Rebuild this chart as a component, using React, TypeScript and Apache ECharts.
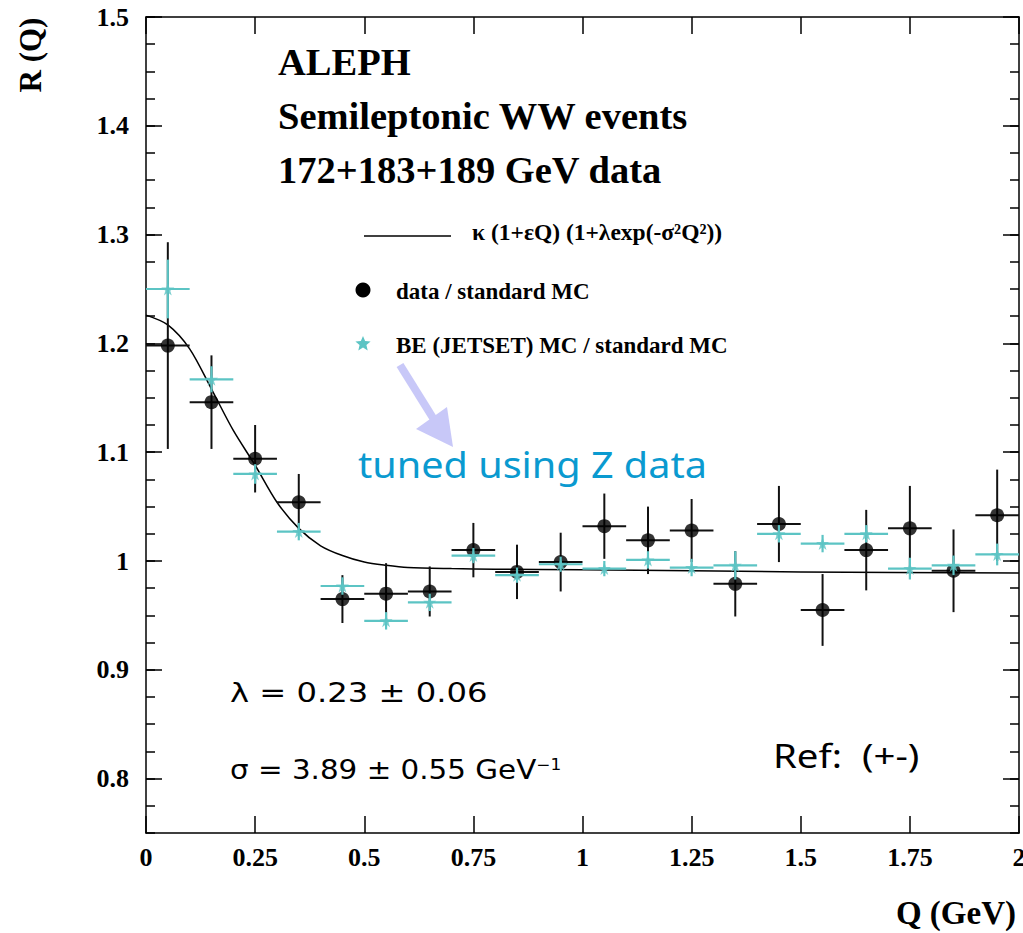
import React, { useEffect, useRef } from "react";
import * as echarts from "echarts";

// ---- data ----
const qCenters = [0.05, 0.15, 0.25, 0.35, 0.45, 0.55, 0.65, 0.75, 0.85, 0.95, 1.05, 1.15, 1.25, 1.35, 1.45, 1.55, 1.65, 1.75, 1.85, 1.95];
const binHalfWidth = 0.05;

const dataR = [1.198, 1.146, 1.094, 1.054, 0.965, 0.970, 0.972, 1.010, 0.990, 0.999, 1.032, 1.019, 1.028, 0.979, 1.034, 0.955, 1.010, 1.030, 0.991, 1.042];
const dataErr = [0.095, 0.043, 0.031, 0.026, 0.022, 0.028, 0.023, 0.025, 0.025, 0.027, 0.030, 0.031, 0.029, 0.030, 0.035, 0.033, 0.037, 0.039, 0.038, 0.042];

const mcR = [1.250, 1.167, 1.080, 1.027, 0.977, 0.945, 0.962, 1.005, 0.987, 0.997, 0.993, 1.001, 0.994, 0.996, 1.025, 1.016, 1.025, 0.993, 0.996, 1.006];
const mcErr = [0.027, 0.012, 0.009, 0.008, 0.008, 0.008, 0.008, 0.007, 0.007, 0.007, 0.007, 0.008, 0.008, 0.013, 0.008, 0.008, 0.008, 0.010, 0.009, 0.010];

const fitQ = [0, 0.05, 0.1, 0.15, 0.2, 0.25, 0.3, 0.35, 0.4, 0.45, 0.5, 0.55, 0.6, 0.7, 0.8, 1.0, 1.5, 2.0];
const fitR = [1.226, 1.217, 1.195, 1.158, 1.120, 1.088, 1.054, 1.030, 1.014, 1.005, 0.999, 0.996, 0.994, 0.993, 0.9925, 0.992, 0.990, 0.989];

const xTicks = [0, 0.25, 0.5, 0.75, 1, 1.25, 1.5, 1.75, 2];
const yMajorTicks = [0.8, 0.9, 1.0, 1.1, 1.2, 1.3, 1.4, 1.5];

const STAR = "path://M50,0 L61,35 L98,35 L68,57 L79,91 L50,70 L21,91 L32,57 L2,35 L39,35 Z";
const BLACK = "#000000";
const CYAN = "#5cc4c4";
const SERIF = "'Liberation Serif', 'Times New Roman', serif";
const SANS = "'Noto Sans', 'DejaVu Sans', sans-serif";

function errRender(color: string, lw: number) {
  return (_params: any, api: any) => {
    const x = api.value(0);
    const y = api.value(1);
    const ex = api.value(2);
    const ey = api.value(3);
    const pL = api.coord([x - ex, y]);
    const pR = api.coord([x + ex, y]);
    const pT = api.coord([x, y + ey]);
    const pB = api.coord([x, y - ey]);
    return {
      type: "group",
      children: [
        { type: "line", shape: { x1: pL[0], y1: pL[1], x2: pR[0], y2: pR[1] }, style: { stroke: color, lineWidth: lw } },
        { type: "line", shape: { x1: pT[0], y1: pT[1], x2: pB[0], y2: pB[1] }, style: { stroke: color, lineWidth: lw } },
      ],
    };
  };
}

function starPoints(cx: number, cy: number, r: number) {
  const pts: number[][] = [];
  for (let i = 0; i < 10; i++) {
    const a = -Math.PI / 2 + (i * Math.PI) / 5;
    const rr = i % 2 === 0 ? r : r * 0.45;
    pts.push([cx + rr * Math.cos(a), cy + rr * Math.sin(a)]);
  }
  return pts;
}

export default function App() {
  const ref = useRef<HTMLDivElement>(null);
  useEffect(() => {
    if (!ref.current) return;
    const chart = echarts.init(ref.current, undefined, { renderer: "svg" });

    const blackBars = qCenters.map((q, i) => [q, dataR[i], binHalfWidth, dataErr[i]]);
    const cyanBars = qCenters.map((q, i) => [q, mcR[i], binHalfWidth, mcErr[i]]);
    const fitData = fitQ.map((q, i) => [q, fitR[i]]);

    const axisLineStyle = { color: BLACK, width: 1.5 };
    const yBase = { type: "value", min: 0.75, max: 1.5, splitLine: { show: false } };

    const option: any = {
      animation: false,
      backgroundColor: "#ffffff",
      grid: { left: 146, top: 17, right: 4, bottom: 100, containLabel: false, outerBoundsMode: "none", show: false },
      xAxis: [
        {
          type: "value", position: "bottom", min: 0, max: 2, interval: 0.25,
          axisLine: { show: true, lineStyle: axisLineStyle },
          axisTick: { show: true, inside: true, length: 17, lineStyle: { color: BLACK, width: 1.5 } },
          axisLabel: { show: true, customValues: xTicks, color: BLACK, fontFamily: SERIF, fontWeight: "bold", fontSize: 26, margin: 11 },
          splitLine: { show: false },
        },
        {
          type: "value", position: "top", min: 0, max: 2, interval: 0.25,
          axisLine: { show: true, lineStyle: axisLineStyle },
          axisTick: { show: true, inside: true, length: 17, lineStyle: { color: BLACK, width: 1.5 } },
          axisLabel: { show: false },
          splitLine: { show: false },
        },
      ],
      yAxis: [
        {
          ...yBase, position: "left",
          axisLine: { show: true, lineStyle: axisLineStyle },
          axisTick: { show: true, inside: true, length: 16, customValues: yMajorTicks, lineStyle: { color: BLACK, width: 1.5 } },
          axisLabel: {
            show: true, customValues: yMajorTicks, color: BLACK, fontFamily: SERIF, fontWeight: "bold", fontSize: 26, margin: 17,
            formatter: (v: number) => String(Math.round(v * 10) / 10),
          },
        },
        {
          ...yBase, position: "left", interval: 0.025,
          axisLine: { show: false },
          axisTick: { show: true, inside: true, length: 9, lineStyle: { color: BLACK, width: 1.5 } },
          axisLabel: { show: false },
        },
        {
          ...yBase, position: "right",
          axisLine: { show: true, lineStyle: axisLineStyle },
          axisTick: { show: true, inside: true, length: 16, customValues: yMajorTicks, lineStyle: { color: BLACK, width: 1.5 } },
          axisLabel: { show: false },
        },
        {
          ...yBase, position: "right", interval: 0.025,
          axisLine: { show: false },
          axisTick: { show: true, inside: true, length: 9, lineStyle: { color: BLACK, width: 1.5 } },
          axisLabel: { show: false },
        },
      ],
      series: [
        {
          name: "fit", type: "line", data: fitData, xAxisIndex: 0, yAxisIndex: 0,
          showSymbol: false, smooth: 0.3, lineStyle: { color: BLACK, width: 1.5 }, z: 2,
        },
        {
          name: "data err", type: "custom", data: blackBars, xAxisIndex: 0, yAxisIndex: 0,
          encode: { x: 0, y: 1 }, renderItem: errRender("#111111", 2), z: 3,
        },
        {
          name: "data / standard MC", type: "scatter", xAxisIndex: 0, yAxisIndex: 0,
          data: qCenters.map((q, i) => [q, dataR[i]]), symbol: "circle", symbolSize: 14,
          itemStyle: { color: BLACK }, z: 4,
        },
        {
          name: "mc err", type: "custom", data: cyanBars, xAxisIndex: 0, yAxisIndex: 0,
          encode: { x: 0, y: 1 }, renderItem: errRender(CYAN, 2.2), z: 5,
        },
        {
          name: "BE (JETSET) MC / standard MC", type: "scatter", xAxisIndex: 0, yAxisIndex: 0,
          data: qCenters.map((q, i) => [q, mcR[i]]), symbol: STAR, symbolSize: 13,
          itemStyle: { color: CYAN }, z: 6,
        },
      ],
      graphic: [
        // axis titles
        { type: "text", x: 30, y: 55, rotation: Math.PI / 2,
          style: { text: "R (Q)", font: `bold 31px ${SERIF}`, fill: BLACK, align: "center", verticalAlign: "middle" } },
        { type: "text", x: 1016, y: 913,
          style: { text: "Q (GeV)", font: `bold 33px ${SERIF}`, fill: BLACK, align: "right", verticalAlign: "middle" } },
        // title block
        { type: "text", x: 278, y: 62,
          style: { text: "ALEPH", font: `bold 38.5px ${SERIF}`, fill: BLACK, align: "left", verticalAlign: "middle" } },
        { type: "text", x: 278, y: 116,
          style: { text: "Semileptonic WW events", font: `bold 38.5px ${SERIF}`, fill: BLACK, align: "left", verticalAlign: "middle" } },
        { type: "text", x: 278, y: 170,
          style: { text: "172+183+189 GeV data", font: `bold 38.5px ${SERIF}`, fill: BLACK, align: "left", verticalAlign: "middle" } },
        // legend
        { type: "line", shape: { x1: 364, y1: 236, x2: 451, y2: 236 }, style: { stroke: BLACK, lineWidth: 1.5 } },
        { type: "text", x: 472, y: 232,
          style: { text: "κ (1+εQ) (1+λexp(-σ²Q²))", font: `bold 23.5px ${SERIF}`, fill: BLACK, align: "left", verticalAlign: "middle" } },
        { type: "circle", shape: { cx: 363, cy: 290, r: 7.5 }, style: { fill: BLACK } },
        { type: "text", x: 396, y: 291,
          style: { text: "data / standard MC", font: `bold 23px ${SERIF}`, fill: BLACK, align: "left", verticalAlign: "middle" } },
        { type: "polygon", shape: { points: starPoints(363, 344, 8) }, style: { fill: CYAN } },
        { type: "text", x: 396, y: 345,
          style: { text: "BE (JETSET) MC / standard MC", font: `bold 23px ${SERIF}`, fill: BLACK, align: "left", verticalAlign: "middle" } },
        // arrow
        { type: "line", shape: { x1: 400, y1: 365, x2: 433, y2: 418 }, style: { stroke: "#c8c8f8", lineWidth: 8 } },
        { type: "polygon", shape: { points: [[416, 429], [447, 407], [453, 447]] }, style: { fill: "#c8c8f8" } },
        { type: "text", x: 358, y: 464, scaleX: 1.1,
          style: { text: "tuned using Z data", font: `36px ${SANS}`, fill: "#0a9ad0", align: "left", verticalAlign: "middle" } },
        // fit results
        { type: "text", x: 230, y: 693, scaleX: 1.24,
          style: { text: "λ = 0.23 ± 0.06", font: `26px 'DejaVu Sans', sans-serif`, fill: BLACK, align: "left", verticalAlign: "middle" } },
        { type: "text", x: 230, y: 770, scaleX: 1.13,
          style: {
            text: "σ = 3.89 ± 0.55 GeV{sup|−1}", font: `26px 'DejaVu Sans', sans-serif`, fill: BLACK, align: "left", verticalAlign: "middle",
            rich: { sup: { fontSize: 15, fontFamily: "'DejaVu Sans', sans-serif", fill: BLACK, verticalAlign: "top" } },
          } },
        { type: "text", x: 773, y: 755, scaleX: 1.2,
          style: { text: "Ref:  (+-)", font: `32px ${SANS}`, fill: BLACK, align: "left", verticalAlign: "middle" } },
      ],
    };

    chart.setOption(option);
    return () => chart.dispose();
  }, []);

  return <div ref={ref} style={{ position: "absolute", left: 0, top: 0, width: 1023, height: 933, background: "#fff" }} />;
}
